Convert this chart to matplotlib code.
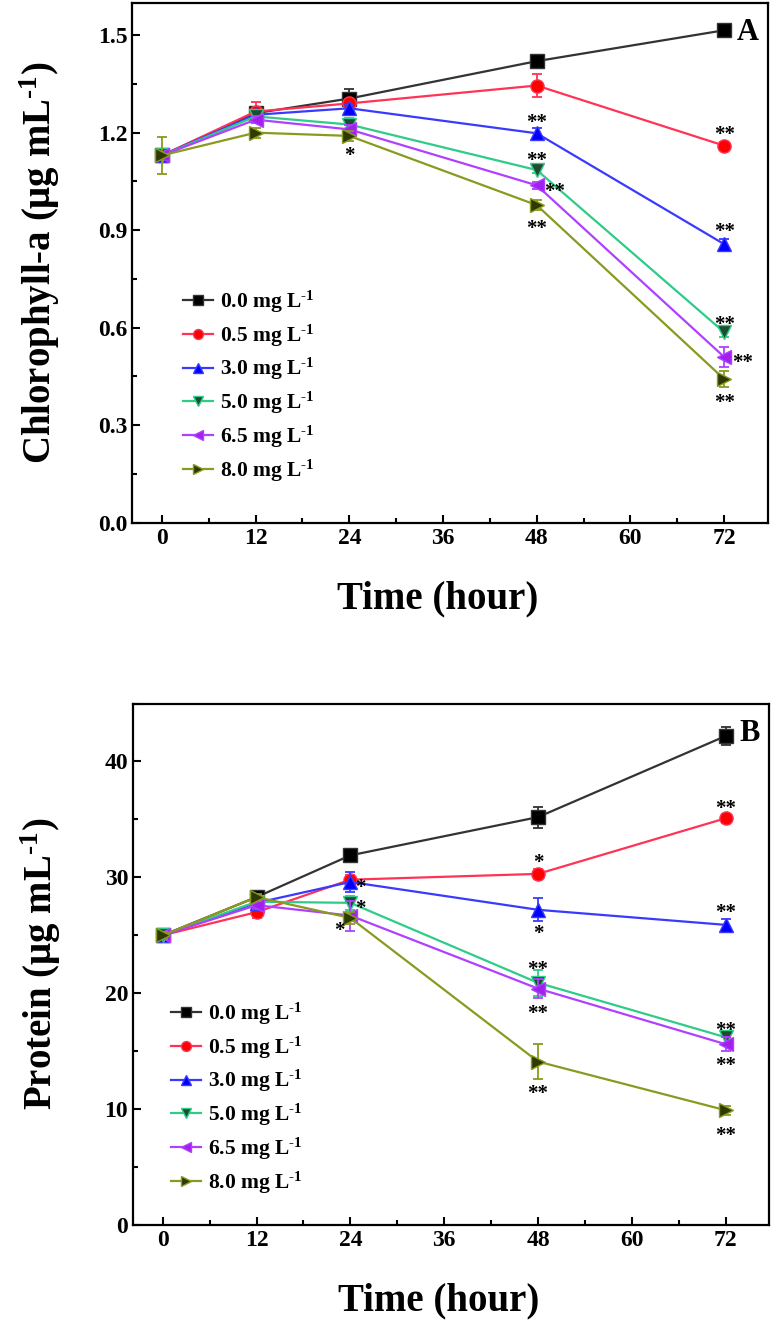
import numpy as np
import matplotlib
matplotlib.use('Agg')
import matplotlib.pyplot as plt
from matplotlib.ticker import MultipleLocator, FormatStrFormatter

plt.rcParams['font.family'] = ['Liberation Serif', 'DejaVu Serif']
plt.rcParams['font.weight'] = 'bold'
plt.rcParams['mathtext.fontset'] = 'custom'
plt.rcParams['mathtext.rm'] = 'Liberation Serif:bold'
plt.rcParams['mathtext.default'] = 'rm'
plt.rcParams['axes.unicode_minus'] = False

# 数据
times = [0, 12, 24, 48, 72]
labels = [r'0.0 mg L$^{\text{-}1}$', r'0.5 mg L$^{\text{-}1}$', r'3.0 mg L$^{\text{-}1}$',
          r'5.0 mg L$^{\text{-}1}$', r'6.5 mg L$^{\text{-}1}$', r'8.0 mg L$^{\text{-}1}$']

# 叶绿素a
chl_00 = [1.13, 1.26, 1.305, 1.42, 1.515]
chl_05 = [1.13, 1.265, 1.29, 1.345, 1.16]
chl_30 = [1.13, 1.255, 1.275, 1.198, 0.857]
chl_50 = [1.13, 1.25, 1.225, 1.085, 0.586]
chl_65 = [1.13, 1.24, 1.21, 1.038, 0.51]
chl_80 = [1.13, 1.20, 1.19, 0.977, 0.442]
chl_00_err = [0.01, 0.01, 0.03, 0.01, 0.01]
chl_05_err = [0.01, 0.03, 0.01, 0.035, 0.01]
chl_30_err = [0.01, 0.01, 0.01, 0.015, 0.015]
chl_50_err = [0.01, 0.01, 0.02, 0.01, 0.015]
chl_65_err = [0.01, 0.01, 0.015, 0.01, 0.03]
chl_80_err = [0.057, 0.015, 0.015, 0.015, 0.025]

# 蛋白质
pro_00 = [25.0, 28.3, 31.9, 35.2, 42.2]
pro_05 = [25.0, 27.0, 29.8, 30.3, 35.1]
pro_30 = [25.0, 27.8, 29.6, 27.2, 25.9]
pro_50 = [25.0, 27.9, 27.8, 20.9, 16.2]
pro_65 = [25.0, 27.6, 26.7, 20.4, 15.6]
pro_80 = [25.0, 28.3, 26.5, 14.1, 9.9]
pro_00_err = [0.3, 0.3, 0.5, 0.9, 0.8]
pro_05_err = [0.3, 0.5, 0.4, 0.4, 0.4]
pro_30_err = [0.3, 0.4, 0.9, 1.0, 0.5]
pro_50_err = [0.3, 0.3, 0.6, 1.1, 0.5]
pro_65_err = [0.3, 0.3, 1.3, 0.8, 0.6]
pro_80_err = [0.3, 0.3, 0.5, 1.5, 0.4]

# 显著性标记: (序列, 时间点, 文本, dx, dy) 偏移单位为 points
chl_marks = [(5, 2, '*', 0, -10), (2, 3, '**', 0, 12), (3, 3, '**', 0, 11),
             (4, 3, '**', 13, 0), (5, 3, '**', 0, -13), (1, 4, '**', 0, 12),
             (2, 4, '**', 0, 13), (3, 4, '**', 0, 10), (4, 4, '**', 13, 0),
             (5, 4, '**', 0, -13)]
pro_marks = [(2, 2, '*', 7, 0), (3, 2, '*', 7, 0), (5, 2, '*', -8, -5),
             (1, 3, '*', 0, 12), (2, 3, '*', 0, -13), (3, 3, '**', 0, 14),
             (4, 3, '**', 0, -14), (5, 3, '**', 0, -19), (1, 4, '**', 0, 11),
             (2, 4, '**', 0, 13), (3, 4, '**', 0, 9), (4, 4, '**', 0, -11),
             (5, 4, '**', 0, -14)]

markers = ['s', 'o', '^', 'v', '<', '>']
line_colors = ['#333333', '#ff3355', '#3a3aff', '#2ecc88', '#b040ff', '#8a9a20']
face_colors = ['#000000', '#ff0000', '#0000ff', '#1d4d30', '#a020f0', '#2f3a00']


def draw(ax, series, errs, marks, ylim, ystep, yfmt, ylabel, letter, leg_anchor):
    for i in range(6):
        ax.errorbar(times, series[i], yerr=errs[i], fmt='none',
                    ecolor=line_colors[i], elinewidth=1.3, capsize=3.5, capthick=1.3)
        ax.plot(times, series[i], color=line_colors[i], marker=markers[i],
                markersize=9.5, markerfacecolor=face_colors[i],
                markeredgecolor=line_colors[i], markeredgewidth=1.0,
                linewidth=1.6, label=labels[i])
    for s, t, txt, dx, dy in marks:
        ax.annotate(txt, xy=(times[t], series[s][t]), xytext=(dx, dy - 4.5),
                    textcoords='offset points', ha='center', va='center',
                    fontsize=15, fontweight='bold')
    ax.set_xlim(-3.8, 77.6)
    ax.set_ylim(*ylim)
    ax.xaxis.set_major_locator(MultipleLocator(12))
    ax.xaxis.set_minor_locator(MultipleLocator(6))
    ax.yaxis.set_major_locator(MultipleLocator(ystep))
    ax.yaxis.set_minor_locator(MultipleLocator(ystep / 2))
    ax.yaxis.set_major_formatter(FormatStrFormatter(yfmt))
    ax.tick_params(which='both', direction='in', width=1.5, labelsize=17)
    ax.tick_params(which='major', length=6)
    ax.tick_params(which='minor', length=3.5)
    for sp in ax.spines.values():
        sp.set_linewidth(1.6)
    ax.set_xlabel('Time (hour)', fontsize=28, fontweight='bold')
    ax.set_ylabel(ylabel, fontsize=28, fontweight='bold')
    ax.xaxis.set_label_coords(0.48, -0.11)
    ax.yaxis.set_label_coords(-0.11, 0.5)
    ax.text(0.985, 0.97, letter, transform=ax.transAxes, ha='right', va='top',
            fontsize=22, fontweight='bold')
    ax.legend(loc='upper left', bbox_to_anchor=leg_anchor, frameon=False,
              fontsize=15.5, handlelength=1.4, handletextpad=0.3, markerscale=0.75,
              labelspacing=0.35, borderpad=0, borderaxespad=0)


fig = plt.figure(figsize=(7.78, 13.2), dpi=100)
ax1 = fig.add_axes([0.170, 0.604, 0.817, 0.394])
ax2 = fig.add_axes([0.171, 0.072, 0.818, 0.395])

draw(ax1, [chl_00, chl_05, chl_30, chl_50, chl_65, chl_80],
     [chl_00_err, chl_05_err, chl_30_err, chl_50_err, chl_65_err, chl_80_err],
     chl_marks, (0, 1.6), 0.3, '%.1f', r'Chlorophyll-a (μg mL$^{\text{-}1}$)', 'A',
     (0.08, 0.45))
draw(ax2, [pro_00, pro_05, pro_30, pro_50, pro_65, pro_80],
     [pro_00_err, pro_05_err, pro_30_err, pro_50_err, pro_65_err, pro_80_err],
     pro_marks, (0, 45), 10, '%d', r'Protein (μg mL$^{\text{-}1}$)', 'B',
     (0.06, 0.43))

fig.savefig('out.png', dpi=100)
